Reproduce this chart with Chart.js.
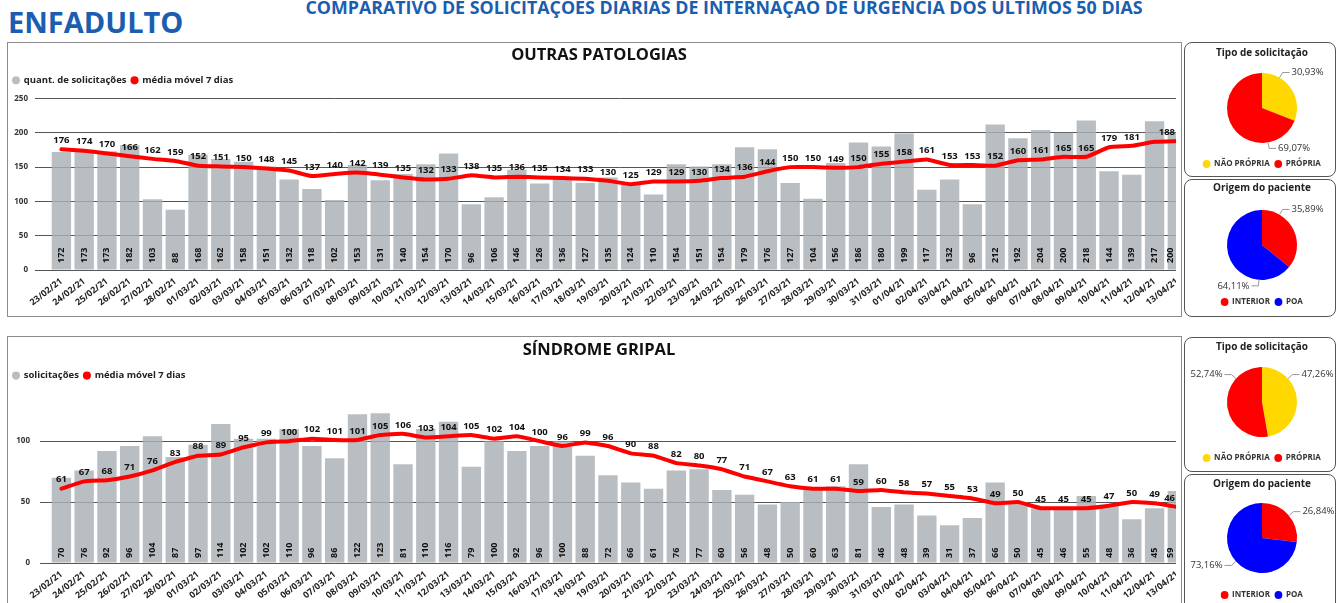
<!DOCTYPE html>
<html>
<head>
<meta charset="utf-8">
<script src="https://cdn.jsdelivr.net/npm/chart.js@4.4.1/dist/chart.umd.min.js"></script>
<style>
html,body{margin:0;padding:0;background:#fff;width:1338px;height:603px;overflow:hidden;font-family:"Open Sans",sans-serif;}
.abs{position:absolute;}
#brand{left:8px;top:7px;font-size:29px;line-height:29px;font-weight:700;color:#1b5eaf;white-space:nowrap;}
#header{left:224px;top:-2px;width:1000px;text-align:center;font-size:18px;line-height:18px;font-weight:700;color:#1b5eaf;white-space:nowrap;transform:scaleX(0.99);transform-origin:center;}
.panel{position:absolute;border:1px solid #8c8c8c;box-sizing:border-box;}
#pA{left:7px;top:42px;width:1175px;height:275px;}
#pB{left:7px;top:336px;width:1175px;height:272px;}
.clip{position:absolute;overflow:hidden;}
#cA{left:8px;top:43px;width:1168px;height:272px;}
#cB{left:8px;top:337px;width:1168px;height:266px;}
.pp{position:absolute;left:1184px;width:152px;border:1px solid #555;border-radius:8px;box-sizing:border-box;}
#q1{top:42px;height:135px;}
#q2{top:179px;height:138px;}
#q3{top:337px;height:135px;}
#q4{top:474px;height:140px;}
.pc{position:absolute;left:1187px;}
</style>
</head>
<body>
<div id="brand" class="abs">ENFADULTO</div>
<div id="header" class="abs">COMPARATIVO DE SOLICITAÇÕES DIARIAS DE INTERNAÇÃO DE URGENCIA DOS ULTIMOS 50 DIAS</div>

<div id="pA" class="panel"></div>
<div id="cA" class="clip"><canvas id="chartA" width="1182" height="272"></canvas></div>
<div id="pB" class="panel"></div>
<div id="cB" class="clip"><canvas id="chartB" width="1182" height="266"></canvas></div>

<div id="q1" class="pp"></div>
<div id="q2" class="pp"></div>
<div id="q3" class="pp"></div>
<div id="q4" class="pp"></div>
<canvas id="pie1" class="pc" width="150" height="135" style="top:43px"></canvas>
<canvas id="pie2" class="pc" width="150" height="138" style="top:178px"></canvas>
<canvas id="pie3" class="pc" width="150" height="135" style="top:337px"></canvas>
<canvas id="pie4" class="pc" width="150" height="135" style="top:474px"></canvas>

<script>
const dates = ['23/02/21','24/02/21','25/02/21','26/02/21','27/02/21','28/02/21',
  '01/03/21','02/03/21','03/03/21','04/03/21','05/03/21','06/03/21','07/03/21','08/03/21','09/03/21','10/03/21',
  '11/03/21','12/03/21','13/03/21','14/03/21','15/03/21','16/03/21','17/03/21','18/03/21','19/03/21','20/03/21',
  '21/03/21','22/03/21','23/03/21','24/03/21','25/03/21','26/03/21','27/03/21','28/03/21','29/03/21','30/03/21','31/03/21',
  '01/04/21','02/04/21','03/04/21','04/04/21','05/04/21','06/04/21','07/04/21','08/04/21','09/04/21','10/04/21',
  '11/04/21','12/04/21','13/04/21'];

const outrasSolicitacoes = [172,173,173,182,103,88,
  168,162,158,151,132,118,102,153,131,140,
  154,170,96,106,146,126,136,127,135,124,
  110,154,151,154,179,176,127,104,156,186,180,
  199,117,132,96,212,192,204,200,218,144,139,217,200];

const outrasMediaMovel = [176,174,170,166,162,159,
  152,151,150,148,145,137,140,142,139,135,
  132,133,138,135,136,135,134,133,130,125,
  129,129,130,134,136,144,150,150,149,150,155,
  158,161,153,153,152,160,161,165,165,179,181,187,188];

const gripalSolicitacoes = [70,76,92,96,104,87,
  97,114,102,102,110,96,86,122,123,81,
  110,116,79,100,92,96,100,88,72,66,
  61,76,77,60,56,48,50,60,63,81,46,
  48,39,31,37,66,50,45,46,55,48,36,45,59];

const gripalMediaMovel = [61,67,68,71,76,83,
  88,89,95,99,100,102,101,101,105,106,
  103,104,105,102,104,100,96,99,96,90,
  88,82,80,77,71,67,63,61,61,59,60,
  58,57,55,53,49,50,45,45,45,47,50,49,46];

const outrasTicks = [0,50,100,150,200,250];
const gripalTicks = [0,50,100];

const tipoLabels = ['NÃO PRÓPRIA','PRÓPRIA'];
const origemLabels = ['INTERIOR','POA'];
const outrasTipo = [30.93, 69.07];
const outrasOrigem = [35.89, 64.11];
const gripalTipo = [47.26, 52.74];
const gripalOrigem = [26.84, 73.16];

const FONT = '"Open Sans", "DejaVu Sans", sans-serif';

const valueLabels = {
  id: 'valueLabels',
  afterDatasetsDraw(chart, args, opts) {
    const ctx = chart.ctx;
    const area = chart.chartArea;
    const maxX = opts.maxX;
    const barMeta = chart.getDatasetMeta(0);
    const barData = chart.data.datasets[0].data;
    ctx.save();
    ctx.fillStyle = '#111';
    ctx.font = 'bold 9px ' + FONT;
    ctx.textAlign = 'left';
    ctx.textBaseline = 'middle';
    barMeta.data.forEach((el, i) => {
      ctx.save();
      ctx.translate(Math.min(el.x, maxX - 6), area.bottom - opts.barOffset);
      ctx.rotate(-Math.PI / 2);
      ctx.fillText(String(barData[i]), 0, 0);
      ctx.restore();
    });
    const lineMeta = chart.getDatasetMeta(1);
    const lineData = chart.data.datasets[1].data;
    ctx.font = 'bold 9.5px ' + FONT;
    ctx.textAlign = 'center';
    lineMeta.data.forEach((el, i) => {
      if ((opts.skip || []).includes(i)) return;
      const txt = String(lineData[i]);
      const w = ctx.measureText(txt).width;
      ctx.fillText(txt, Math.min(el.x, maxX - w / 2 - 1), el.y - 9);
    });
    ctx.restore();
  }
};

const pieLabels = {
  id: 'pieLabels',
  afterDatasetsDraw(chart, args, opts) {
    const ctx = chart.ctx;
    const meta = chart.getDatasetMeta(0);
    const vals = chart.data.datasets[0].data;
    ctx.save();
    ctx.font = '9.5px ' + FONT;
    ctx.fillStyle = '#333';
    ctx.strokeStyle = '#999';
    ctx.lineWidth = 1;
    ctx.textBaseline = 'middle';
    meta.data.forEach((arc, i) => {
      const a = opts.angles[i] * Math.PI / 180;
      const r = arc.outerRadius;
      const sx = arc.x + r * Math.sin(a), sy = arc.y - r * Math.cos(a);
      const ex = arc.x + (r + 6) * Math.sin(a), ey = arc.y - (r + 6) * Math.cos(a);
      const dir = Math.sin(a) >= 0 ? 1 : -1;
      const hx = ex + dir * 7;
      ctx.beginPath();
      ctx.moveTo(sx, sy); ctx.lineTo(ex, ey); ctx.lineTo(hx, ey);
      ctx.stroke();
      ctx.textAlign = dir > 0 ? 'left' : 'right';
      ctx.fillText(vals[i].toFixed(2).replace('.', ',') + '%', hx + dir * 2, ey);
    });
    ctx.restore();
  }
};

function legendItems(chart) {
  return Chart.defaults.plugins.legend.labels.generateLabels(chart)
    .map(it => Object.assign({}, it, {lineWidth: 0, strokeStyle: 'rgba(0,0,0,0)'}));
}

function comboChart(id, cfg) {
  return new Chart(document.getElementById(id), {
    type: 'bar',
    data: {
      labels: dates,
      datasets: [
        {type: 'bar', label: cfg.barLabel, data: cfg.bars, backgroundColor: 'rgba(170,176,180,0.82)',
         borderWidth: 0, barPercentage: 1, categoryPercentage: 0.85, order: 2},
        {type: 'line', label: 'média móvel 7 dias', data: cfg.line, borderColor: '#ff0000', backgroundColor: '#ff0000',
         borderWidth: 4, pointRadius: 0, tension: 0.1, borderJoinStyle: 'round', borderCapStyle: 'round', order: 1}
      ]
    },
    options: {
      responsive: false, animation: false, events: [],
      layout: {padding: 0},
      plugins: {
        title: {display: true, text: cfg.title, color: '#111', font: {family: FONT, size: 16.5, weight: 'bold'},
                padding: {top: cfg.tpt, bottom: cfg.tpb}},
        legend: {display: true, align: 'start',
                 labels: {usePointStyle: true, pointStyle: 'circle', boxWidth: 6, boxHeight: 5.7, padding: 5,
                          color: '#222', font: {family: FONT, size: 9.5, weight: 'bold'}, generateLabels: legendItems,
                          sort: (a, b) => a.datasetIndex - b.datasetIndex}},
        tooltip: {enabled: false},
        valueLabels: {skip: cfg.skip || [], barOffset: cfg.barOffset, maxX: 1168}
      },
      scales: {
        x: {
          grid: {display: false, drawTicks: false}, border: {display: false},
          ticks: {autoSkip: false, maxRotation: 38, minRotation: 38, padding: 6, color: '#222',
                  font: {family: FONT, size: 9, weight: 'bold'}},
          afterFit(s) { s.height = cfg.xh; }
        },
        y: {
          min: 0, max: cfg.max,
          grid: {color: '#555', lineWidth: 1, drawTicks: true, tickLength: cfg.tl, tickColor: '#555'},
          border: {display: false},
          ticks: {padding: cfg.tp, color: '#333', font: {family: FONT, size: 8, weight: 'bold'}},
          afterBuildTicks(s) { s.ticks = cfg.ticks.map(v => ({value: v})); },
          afterFit(s) { s.width = 42; }
        }
      }
    },
    plugins: [valueLabels]
  });
}

comboChart('chartA', {title: 'OUTRAS PATOLOGIAS', barLabel: 'quant. de solicitações', bars: outrasSolicitacoes,
  line: outrasMediaMovel, ticks: outrasTicks, max: 255, tpt: 2.4, tpb: 5.4, xh: 45, tl: 15, tp: 7, skip: [48], barOffset: 7});
comboChart('chartB', {title: 'SÍNDROME GRIPAL', barLabel: 'solicitações', bars: gripalSolicitacoes,
  line: gripalMediaMovel, ticks: gripalTicks, max: 141.7, tpt: 3.4, tpb: 5.65, xh: 40, tl: 10, tp: 10, barOffset: 5});

function pieChart(id, cfg) {
  return new Chart(document.getElementById(id), {
    type: 'pie',
    data: {labels: cfg.labels, datasets: [{data: cfg.values, backgroundColor: cfg.colors, borderWidth: 0, radius: 35}]},
    options: {
      responsive: false, animation: false, events: [],
      layout: {padding: 0},
      plugins: {
        title: {display: true, text: cfg.title, color: '#222', font: {family: FONT, size: 10, weight: 'bold'},
                padding: {top: 4, bottom: cfg.pb}},
        legend: {position: 'bottom',
                 labels: {usePointStyle: true, pointStyle: 'circle', boxWidth: 7, boxHeight: 5.5, padding: 5,
                          color: '#333', font: {family: FONT, size: 8, weight: 'bold'}}},
        tooltip: {enabled: false},
        pieLabels: {angles: cfg.angles}
      }
    },
    plugins: [pieLabels]
  });
}

const YELLOW = '#ffd800', RED = '#ff0000', BLUE = '#0000ff';
pieChart('pie1', {title: 'Tipo de solicitação', labels: tipoLabels, values: outrasTipo, colors: [YELLOW, RED], pb: 2, angles: [30, 170]});
pieChart('pie2', {title: 'Origem do paciente', labels: origemLabels, values: outrasOrigem, colors: [RED, BLUE], pb: 3, angles: [30, 185]});
pieChart('pie3', {title: 'Tipo de solicitação', labels: tipoLabels, values: gripalTipo, colors: [YELLOW, RED], pb: 2, angles: [48, 312]});
pieChart('pie4', {title: 'Origem do paciente', labels: origemLabels, values: gripalOrigem, colors: [RED, BLUE], pb: 0, angles: [50, 228]});
</script>
</body>
</html>
